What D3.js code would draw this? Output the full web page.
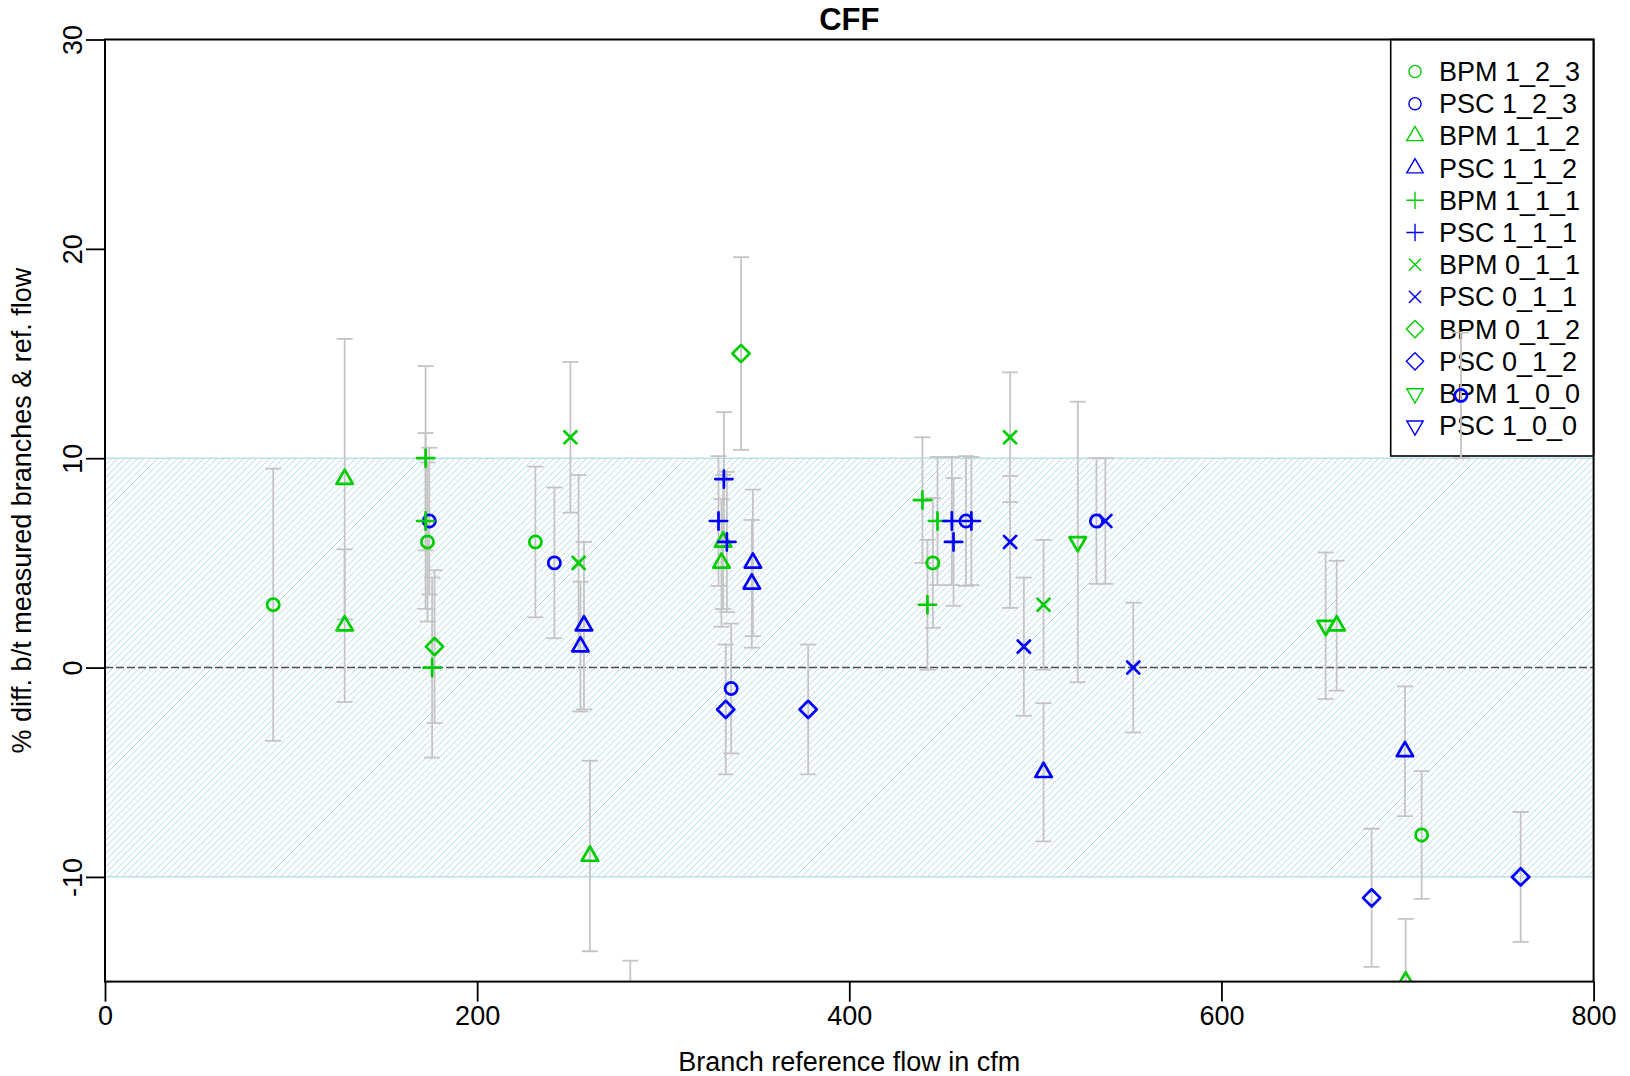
<!DOCTYPE html>
<html>
<head>
<meta charset="utf-8">
<script src="https://cdn.jsdelivr.net/npm/d3@7"></script>
<style>
  html, body { margin: 0; padding: 0; background: #fff; }
  svg { display: block; font-family: "Liberation Sans", Arial, Helvetica, sans-serif; }
</style>
</head>
<body>
<svg id="chart" width="1630" height="1076"></svg>
<script>
// Each record: [branch reference flow (cfm), % difference, error half-width]
const bpm123 = [[90.4, 3, 6.5], [173.3, 6, 3.8], [231.3, 6, 3.6], [444.9, 5, 3.1], [707.6, -8, 3.05]];
const psc123 = [[174.3, 7, 3.5], [241.5, 5, 3.6], [336.5, -1, 3.1], [462.7, 7, 3.1], [532.8, 7, 3.0], [728.7, 13, 3.0]];
const bpm112 = [[128.8, 9, 6.7], [128.8, 2, 3.65], [260.6, -9, 4.55], [282.3, -18.5, 4.5], [332.2, 6, 3.2], [331.3, 5, 3.05], [661.9, 2, 3.1], [699.0, -15, 3.0]];
const psc112 = [[257.4, 2, 4.0], [255.5, 1, 3.1], [348.2, 5, 3.5], [347.6, 4, 3.05], [504.4, -5, 3.3], [698.6, -4, 3.1]];
const bpm111 = [[172.3, 10, 4.4], [172.3, 7, 4.2], [175.8, 0, 4.3], [439.3, 8, 3.0], [447.4, 7, 3.06], [442.0, 3, 3.1]];
const psc111 = [[332.6, 9, 3.2], [329.7, 7, 3.1], [334.2, 6, 3.35], [455.1, 7, 3.06], [456.0, 6, 3.05], [465.6, 7, 3.06]];
const bpm011 = [[250.1, 11, 3.6], [254.5, 5, 4.2], [486.4, 11, 3.1], [504.4, 3, 3.1]];
const psc011 = [[486.4, 6, 3.15], [493.8, 1, 3.3], [537.6, 7, 3.0], [552.6, 0, 3.1]];
const bpm012 = [[177.1, 1, 3.65], [341.8, 15, 4.6]];
const psc012 = [[333.6, -2, 3.1], [377.9, -2, 3.1], [680.7, -11, 3.3], [760.8, -10, 3.1]];
const bpm100 = [[522.8, 6, 6.7], [656.0, 2, 3.5]];
const psc100 = [];

const seriesNames = ["BPM 1_2_3", "PSC 1_2_3", "BPM 1_1_2", "PSC 1_1_2", "BPM 1_1_1", "PSC 1_1_1",
                     "BPM 0_1_1", "PSC 0_1_1", "BPM 0_1_2", "PSC 0_1_2", "BPM 1_0_0", "PSC 1_0_0"];
const seriesData = [bpm123, psc123, bpm112, psc112, bpm111, psc111,
                    bpm011, psc011, bpm012, psc012, bpm100, psc100];

const xTicks = [0, 200, 400, 600, 800];
const yTicks = [-10, 0, 10, 20, 30];
const xDomain = [0, 800];
const yDomain = [-15, 30];
const bandLimits = [-10, 10];
const referenceLine = 0;

const chartTitle = "CFF";
const xTitle = "Branch reference flow in cfm";
const yTitle = "% diff. b/t measured branches & ref. flow";

// ---- styling ----
const GREEN = "#00cd00", BLUE = "#0000ff";
const FONT = 27;
const colorFor = name => name.startsWith("BPM") ? GREEN : BLUE;
const symbolFor = {
  "1_2_3": "circle", "1_1_2": "triangle", "1_1_1": "plus",
  "0_1_1": "cross", "0_1_2": "diamond", "1_0_0": "triangleDown"
};
const S = 6.1; // base symbol radius

function symbolPath(type, s) {
  const p = d3.path();
  const a = Math.SQRT2 * s;
  if (type === "circle") {
    p.moveTo(s, 0); p.arc(0, 0, s, 0, 2 * Math.PI);
  } else if (type === "triangle" || type === "triangleDown") {
    const f = type === "triangle" ? 1 : -1;
    const r = 1.5551 * s, xc = 1.3468 * s, yc = 0.7776 * s;
    p.moveTo(0, -r * f); p.lineTo(xc, yc * f); p.lineTo(-xc, yc * f); p.closePath();
  } else if (type === "plus") {
    p.moveTo(-a, 0); p.lineTo(a, 0); p.moveTo(0, -a); p.lineTo(0, a);
  } else if (type === "cross") {
    p.moveTo(-s, -s); p.lineTo(s, s); p.moveTo(-s, s); p.lineTo(s, -s);
  } else if (type === "diamond") {
    p.moveTo(0, -a); p.lineTo(a, 0); p.lineTo(0, a); p.lineTo(-a, 0); p.closePath();
  }
  return p.toString();
}

// plain hyphen-minus for negative tick labels
const plainNumber = d => String(d);

const svg = d3.select("#chart");
const x = d3.scaleLinear().domain(xDomain).range([105, 1593.6]);
const y = d3.scaleLinear().domain(yDomain).range([981.6, 39.5]);
const [px0, px1] = x.range();
const [py1, py0] = y.range();

const defs = svg.append("defs");
defs.append("clipPath").attr("id", "plotClip")
  .append("rect").attr("x", px0).attr("y", py0).attr("width", px1 - px0).attr("height", py1 - py0);
const bandTop = y(bandLimits[1]), bandBot = y(bandLimits[0]);
defs.append("clipPath").attr("id", "bandClip")
  .append("rect").attr("x", px0).attr("y", bandTop).attr("width", px1 - px0).attr("height", bandBot - bandTop);

// ---- tolerance band (hatched) ----
const bandH = bandBot - bandTop;
const hatchStep = 6.6;
svg.append("g").attr("clip-path", "url(#bandClip)")
  .selectAll("line").data(d3.range(px0 - bandH, px1 + hatchStep, hatchStep)).join("line")
  .attr("x1", d => d).attr("y1", bandBot)
  .attr("x2", d => d + bandH).attr("y2", bandTop)
  .attr("stroke", "#add8e6").attr("stroke-width", 1);
svg.append("rect")
  .attr("x", px0).attr("y", bandTop).attr("width", px1 - px0).attr("height", bandH)
  .attr("fill", "none").attr("stroke", "#add8e6").attr("stroke-width", 1.2);

// ---- zero reference line ----
svg.append("line")
  .attr("x1", px0).attr("x2", px1).attr("y1", y(referenceLine)).attr("y2", y(referenceLine))
  .attr("stroke", "#4d4d4d").attr("stroke-width", 1.4).attr("stroke-dasharray", "8,3");

// ---- legend ----
const leg = svg.append("g");
const legX0 = 1390.7, legY0 = py0, legRow = 32.2, legFirst = 71.5;
leg.append("rect").attr("x", legX0).attr("y", legY0)
  .attr("width", px1 - legX0).attr("height", 456 - legY0)
  .attr("fill", "#fff").attr("stroke", "#000").attr("stroke-width", 1.6);
const legItems = leg.selectAll("g.item").data(seriesNames).join("g")
  .attr("transform", (d, i) => `translate(0,${legFirst + i * legRow})`);
legItems.append("path")
  .attr("transform", `translate(1415,0)`)
  .attr("d", d => symbolPath(symbolFor[d.slice(4)], S))
  .attr("fill", "none").attr("stroke", d => colorFor(d)).attr("stroke-width", 1.4);
legItems.append("text")
  .attr("x", 1439).attr("y", 9.5)
  .attr("font-size", FONT).attr("fill", "#000")
  .text(d => d);

// ---- error bars and points ----
const plotG = svg.append("g").attr("clip-path", "url(#plotClip)");
const flat = [];
seriesData.forEach((arr, i) => arr.forEach(r => flat.push({ name: seriesNames[i], fx: r[0], dy: r[1], e: r[2] })));

const capW = 8;
const bars = plotG.append("g").selectAll("g").data(flat).join("g")
  .attr("stroke", "#c4c4c4").attr("stroke-width", 1.8).attr("fill", "none");
bars.append("line")
  .attr("x1", d => x(d.fx)).attr("x2", d => x(d.fx))
  .attr("y1", d => y(d.dy + d.e)).attr("y2", d => y(d.dy - d.e));
bars.append("line")
  .attr("x1", d => x(d.fx) - capW).attr("x2", d => x(d.fx) + capW)
  .attr("y1", d => y(d.dy + d.e)).attr("y2", d => y(d.dy + d.e));
bars.append("line")
  .attr("x1", d => x(d.fx) - capW).attr("x2", d => x(d.fx) + capW)
  .attr("y1", d => y(d.dy - d.e)).attr("y2", d => y(d.dy - d.e));

plotG.append("g").selectAll("path").data(flat).join("path")
  .attr("transform", d => `translate(${x(d.fx)},${y(d.dy)})`)
  .attr("d", d => symbolPath(symbolFor[d.name.slice(4)], S))
  .attr("fill", "none").attr("stroke", d => colorFor(d.name))
  .attr("stroke-width", 2.7).attr("stroke-linecap", "round").attr("stroke-linejoin", "round");

// ---- frame and axes ----
svg.append("rect").attr("x", px0).attr("y", py0).attr("width", px1 - px0).attr("height", py1 - py0)
  .attr("fill", "none").attr("stroke", "#000").attr("stroke-width", 2);

const xAxis = svg.append("g").attr("transform", `translate(0,${py1})`)
  .call(d3.axisBottom(x).tickValues(xTicks).tickSize(20).tickFormat(plainNumber));
xAxis.select(".domain").remove();
xAxis.selectAll(".tick line").attr("stroke", "#000").attr("stroke-width", 1.8);
xAxis.selectAll(".tick text").attr("y", 43.4).attr("dy", 0)
  .attr("font-size", FONT).attr("font-family", null).attr("fill", "#000");

const yAxis = svg.append("g").attr("transform", `translate(${px0},0)`)
  .call(d3.axisLeft(y).tickValues(yTicks).tickSize(19).tickFormat(plainNumber));
yAxis.select(".domain").remove();
yAxis.selectAll(".tick line").attr("stroke", "#000").attr("stroke-width", 1.8);
yAxis.selectAll(".tick text")
  .attr("x", 0).attr("y", 0).attr("dy", 0)
  .attr("transform", "translate(-23,0) rotate(-90)")
  .attr("text-anchor", "middle")
  .attr("font-size", FONT).attr("font-family", null).attr("fill", "#000");

// ---- titles ----
svg.append("text").attr("x", (px0 + px1) / 2).attr("y", 30)
  .attr("text-anchor", "middle").attr("font-size", 31).attr("font-weight", "bold")
  .text(chartTitle);
svg.append("text").attr("x", (px0 + px1) / 2).attr("y", 1071)
  .attr("text-anchor", "middle").attr("font-size", FONT)
  .text(xTitle);
svg.append("text")
  .attr("transform", `translate(31,${(py0 + py1) / 2}) rotate(-90)`)
  .attr("text-anchor", "middle").attr("font-size", FONT)
  .text(yTitle);
</script>
</body>
</html>
